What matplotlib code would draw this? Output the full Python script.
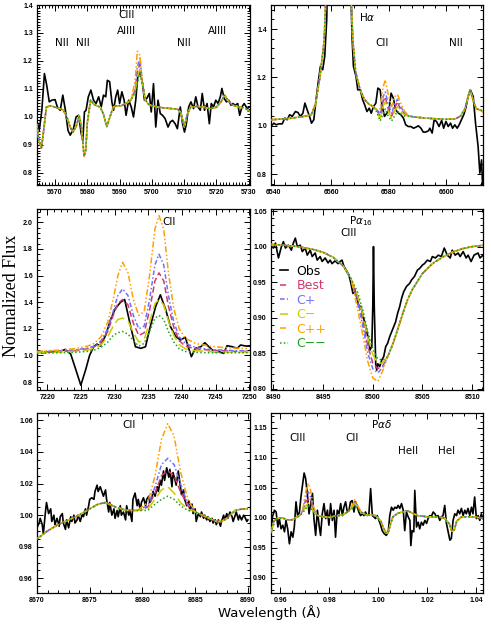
import matplotlib
matplotlib.use("Agg")
import matplotlib.pyplot as plt
import numpy as np
from matplotlib.ticker import MultipleLocator, AutoMinorLocator

models = ["Best", "C+", "C\u2212", "C++", "C\u2212\u2212"]
model_colors = ["#d03a6a", "#6f6fff", "#cccc00", "#ffa000", "#22a022"]
model_styles = [(0, (4, 2)), (0, (3, 1.5, 1, 1.5)), (0, (7, 3)),
                (0, (4, 1.5, 1, 1.5, 1, 1.5)), (0, (1, 1.5))]

# ---- panel 1 : 5665-5730
p1_obs_w = [5664.3, 5665.1, 5665.9, 5666.7, 5667.4, 5668.2, 5669.0, 5670.0, 5670.7, 5671.6,
            5672.4, 5673.2, 5674.0, 5674.7, 5675.7, 5676.5, 5677.3, 5678.1, 5678.6, 5679.1,
            5679.6, 5680.3, 5681.1, 5681.9, 5682.7, 5683.5, 5684.3, 5685.0, 5685.7, 5686.2,
            5686.9, 5687.6, 5688.1, 5688.8, 5689.4, 5690.0, 5690.7, 5691.4, 5692.0, 5692.8,
            5693.6, 5694.3, 5695.0, 5695.6, 5696.4, 5697.1, 5697.7, 5698.4, 5699.2, 5699.8,
            5700.5, 5701.2, 5701.9, 5702.6, 5703.3, 5704.1, 5705.0, 5705.7, 5706.4, 5707.2,
            5707.9, 5708.8, 5709.5, 5710.1, 5710.6, 5711.4, 5712.1, 5712.9, 5713.6, 5714.3,
            5715.0, 5715.6, 5716.3, 5717.1, 5717.8, 5718.4, 5719.1, 5719.8, 5720.5, 5721.2,
            5721.7, 5722.4, 5723.1, 5723.8, 5724.5, 5725.1, 5725.8, 5726.6, 5727.2, 5727.9,
            5728.6, 5729.5, 5730.3]
p1_obs_f = [0.988, 0.952, 1.024, 1.155, 1.114, 1.054, 1.060, 1.062, 1.036, 1.024,
            1.078, 1.024, 0.952, 0.935, 0.958, 1.000, 1.006, 0.941, 0.917, 1.018,
            1.024, 1.072, 1.096, 1.060, 1.048, 1.072, 1.036, 1.078, 1.072, 1.131,
            1.126, 1.054, 1.024, 1.072, 1.096, 1.048, 1.090, 1.060, 1.006, 1.060,
            1.036, 1.000, 1.060, 1.143, 1.161, 1.119, 1.060, 1.066, 1.084, 1.018,
            1.119, 0.964, 1.060, 1.012, 1.006, 0.994, 0.964, 0.982, 0.988, 0.976,
            0.958, 1.036, 0.976, 0.946, 0.970, 1.036, 1.054, 1.030, 1.072, 1.036,
            1.024, 1.084, 1.024, 1.048, 0.976, 1.048, 1.036, 1.060, 1.048, 1.072,
            1.102, 1.066, 1.054, 1.060, 1.042, 1.048, 1.042, 1.048, 1.006, 1.036,
            1.048, 1.030, 1.036]
p1_cont_w = [5664.3, 5665.0, 5665.8, 5666.5, 5667.3, 5668.5, 5670.0, 5671.5, 5672.5, 5673.5,
             5674.5, 5675.5, 5676.5, 5677.5, 5678.2, 5679.0, 5679.5, 5680.0, 5681.0, 5682.0,
             5683.0, 5684.0, 5685.0, 5686.0, 5687.0, 5688.0, 5689.0, 5690.5, 5692.0, 5693.5,
             5698.0, 5699.0, 5700.0, 5702.0, 5704.0, 5706.0, 5708.0, 5709.0, 5710.0, 5711.0,
             5712.0, 5714.0, 5716.0, 5718.0, 5720.0, 5721.5, 5722.5, 5723.5, 5725.0, 5727.0,
             5729.0, 5730.5]
p1_cont_f = [0.975, 0.915, 0.890, 0.955, 1.035, 1.040, 1.035, 1.030, 1.025, 1.005,
             0.970, 0.945, 0.965, 1.005, 0.960, 0.860, 0.880, 0.980, 1.060, 1.045,
             1.040, 1.035, 1.010, 0.965, 1.000, 1.035, 1.040, 1.040, 1.048, 1.060,
             1.060, 1.045, 1.040, 1.035, 1.032, 1.030, 1.028, 1.015, 0.965, 1.010,
             1.035, 1.038, 1.035, 1.030, 1.035, 1.055, 1.078, 1.060, 1.042, 1.036,
             1.030, 1.020]
p1_line_w = [5694.8, 5695.5, 5696.3, 5697.0]
p1_line = {"Best": [1.095, 1.16, 1.19, 1.125],
           "C+": [1.10, 1.18, 1.21, 1.13],
           "C\u2212": [1.09, 1.14, 1.17, 1.12],
           "C++": [1.13, 1.235, 1.22, 1.12],
           "C\u2212\u2212": [1.085, 1.12, 1.16, 1.12]}

# ---- panel 2 : H alpha
p2_obs_w = [6539.2, 6540.0, 6540.8, 6541.7, 6542.9, 6543.8, 6544.6, 6545.5, 6546.4, 6547.5,
            6548.4, 6549.2, 6550.1, 6550.8, 6551.6, 6552.4, 6553.1, 6553.9, 6554.7, 6555.4,
            6556.2, 6557.0, 6557.7, 6558.4, 6558.8, 6566.5, 6567.2, 6567.7, 6568.6, 6569.2,
            6570.1, 6570.9, 6571.6, 6572.4, 6573.2, 6573.9, 6574.7, 6575.5, 6576.2, 6577.0,
            6577.6, 6578.5, 6579.3, 6580.1, 6580.8, 6581.6, 6582.4, 6583.4, 6584.2, 6585.1,
            6585.9, 6586.8, 6587.7, 6588.6, 6589.4, 6590.3, 6591.2, 6592.0, 6592.8, 6593.8,
            6594.3, 6595.1, 6595.8, 6596.6, 6597.5, 6598.4, 6599.1, 6599.9, 6600.7, 6601.5,
            6602.2, 6603.0, 6603.8, 6604.5, 6605.3, 6606.1, 6606.8, 6607.6, 6608.4, 6609.4,
            6610.2, 6611.1, 6611.7, 6612.3, 6612.7]
p2_obs_f = [1.000, 1.011, 1.004, 1.008, 1.008, 1.032, 1.025, 1.046, 1.039, 1.059,
            1.055, 1.039, 1.052, 1.094, 1.066, 1.039, 1.011, 1.025, 1.108, 1.177,
            1.246, 1.232, 1.287, 1.440, 1.700, 1.700, 1.370, 1.246, 1.204, 1.149,
            1.149, 1.108, 1.087, 1.059, 1.073, 1.052, 1.080, 1.094, 1.156, 1.149,
            1.087, 1.039, 1.052, 1.066, 1.135, 1.114, 1.066, 1.052, 1.046, 1.032,
            1.004, 0.997, 0.997, 0.990, 0.994, 1.000, 0.990, 0.974, 0.974, 0.979,
            0.990, 0.970, 1.025, 1.018, 0.997, 1.022, 0.990, 1.018, 0.997, 1.011,
            0.990, 1.004, 0.990, 1.004, 1.025, 1.046, 1.073, 1.121, 1.149, 1.121,
            1.011, 0.914, 0.804, 0.859, 0.740]
p2_cont_w = [6539.0, 6545.0, 6550.0, 6553.0, 6554.5, 6556.0, 6557.5, 6559.0, 6566.5, 6567.0,
             6567.5, 6568.5, 6570.0, 6571.5, 6573.0, 6574.5, 6575.3, 6587.0, 6590.0, 6595.0,
             6600.0, 6603.0, 6605.0, 6606.5, 6608.3, 6609.5, 6610.5, 6612.0, 6613.0]
p2_cont_f = [1.025, 1.030, 1.038, 1.045, 1.090, 1.200, 1.350, 1.800, 1.800, 1.500,
             1.350, 1.220, 1.150, 1.110, 1.090, 1.080, 1.070, 1.040, 1.035, 1.030,
             1.027, 1.028, 1.040, 1.070, 1.150, 1.100, 1.070, 1.065, 1.055]
p2_line_w = [6576.0, 6577.0, 6578.0, 6578.8, 6579.8, 6581.0, 6582.0, 6583.0, 6584.0, 6585.5]
p2_line = {"Best": [1.06, 1.04, 1.10, 1.12, 1.07, 1.04, 1.07, 1.10, 1.07, 1.05],
           "C+": [1.065, 1.05, 1.12, 1.14, 1.09, 1.05, 1.09, 1.11, 1.08, 1.055],
           "C\u2212": [1.055, 1.03, 1.08, 1.10, 1.06, 1.03, 1.06, 1.08, 1.06, 1.045],
           "C++": [1.07, 1.07, 1.16, 1.19, 1.13, 1.08, 1.12, 1.13, 1.10, 1.06],
           "C\u2212\u2212": [1.05, 1.02, 1.05, 1.07, 1.04, 1.02, 1.04, 1.06, 1.05, 1.04]}

# ---- panel 3 : CII 7231/7236
p3_obs_w = [7218.5, 7219.5, 7220.5, 7221.5, 7222.2, 7222.7, 7223.5, 7224.2, 7225.0, 7225.7,
            7226.3, 7226.9, 7227.4, 7227.9, 7228.7, 7229.4, 7230.1, 7230.9, 7231.5, 7232.4,
            7233.1, 7233.9, 7234.6, 7235.3, 7236.1, 7236.8, 7237.6, 7238.3, 7239.1, 7239.8,
            7240.5, 7241.4, 7242.0, 7242.8, 7243.4, 7244.0, 7244.8, 7245.5, 7246.2, 7246.7,
            7247.5, 7248.2, 7248.7, 7249.5, 7250.1]
p3_obs_f = [1.028, 1.020, 1.028, 1.028, 1.035, 1.045, 1.010, 0.902, 0.776, 0.889,
            1.000, 1.065, 1.085, 1.070, 1.153, 1.266, 1.350, 1.400, 1.420, 1.216,
            1.065, 1.053, 1.065, 1.216, 1.367, 1.455, 1.342, 1.216, 1.141, 1.116,
            1.136, 0.990, 1.053, 1.065, 1.095, 1.065, 1.028, 1.028, 1.015, 1.073,
            1.065, 1.053, 1.078, 1.070, 1.070]
p3_cont_w = []
p3_cont_f = []
p3_line_w = [7218.5, 7220.0, 7222.0, 7224.0, 7226.0, 7227.0, 7228.0, 7229.0, 7229.8, 7230.5,
             7231.2, 7232.0, 7232.8, 7233.6, 7234.4, 7235.2, 7236.0, 7236.6, 7237.3, 7238.0,
             7238.8, 7239.6, 7240.5, 7242.0, 7244.0, 7246.0, 7248.0, 7250.0]
p3_line = {
    "Best": [1.022, 1.025, 1.03, 1.035, 1.05, 1.065, 1.10, 1.18, 1.30, 1.39,
             1.42, 1.38, 1.24, 1.15, 1.17, 1.34, 1.56, 1.62, 1.56, 1.37,
             1.21, 1.11, 1.07, 1.05, 1.04, 1.035, 1.03, 1.03],
    "C+": [1.025, 1.03, 1.035, 1.04, 1.055, 1.07, 1.11, 1.20, 1.33, 1.45,
           1.50, 1.45, 1.30, 1.20, 1.22, 1.42, 1.68, 1.76, 1.68, 1.45,
           1.25, 1.14, 1.09, 1.06, 1.045, 1.04, 1.035, 1.035],
    "C\u2212": [1.02, 1.022, 1.025, 1.03, 1.04, 1.055, 1.08, 1.14, 1.22, 1.27,
                1.28, 1.26, 1.17, 1.10, 1.12, 1.25, 1.39, 1.42, 1.38, 1.26,
                1.15, 1.08, 1.05, 1.035, 1.03, 1.025, 1.025, 1.025],
    "C++": [1.03, 1.035, 1.04, 1.05, 1.07, 1.09, 1.14, 1.25, 1.42, 1.60,
            1.70, 1.62, 1.42, 1.30, 1.33, 1.60, 1.95, 2.05, 1.95, 1.62,
            1.35, 1.20, 1.13, 1.09, 1.07, 1.06, 1.055, 1.05],
    "C\u2212\u2212": [1.015, 1.018, 1.02, 1.022, 1.03, 1.04, 1.06, 1.10, 1.15, 1.17,
                      1.18, 1.16, 1.11, 1.07, 1.09, 1.18, 1.28, 1.30, 1.27, 1.18,
                      1.10, 1.05, 1.03, 1.022, 1.02, 1.02, 1.02, 1.02]}

# ---- panel 4 : Pa16
p4_obs_w = [8489.8, 8490.0, 8490.2, 8490.5, 8490.8, 8491.0, 8491.2, 8491.5, 8491.8, 8492.0,
            8492.2, 8492.4, 8492.7, 8492.9, 8493.2, 8493.4, 8493.7, 8493.9, 8494.2, 8494.4,
            8494.7, 8494.9, 8495.2, 8495.5, 8495.7, 8495.9, 8496.2, 8496.5, 8496.7, 8496.9,
            8497.1, 8497.4, 8497.6, 8497.8, 8498.0, 8498.2, 8498.4, 8498.6, 8498.8, 8499.0,
            8499.2, 8499.4, 8499.6, 8499.7, 8499.9, 8500.0, 8500.07, 8500.15, 8500.3, 8500.4,
            8500.5, 8500.7, 8500.9, 8501.1, 8501.3, 8501.5, 8501.7, 8501.9, 8502.1, 8502.3,
            8502.5, 8502.7, 8502.9, 8503.1, 8503.4, 8503.7, 8503.9, 8504.2, 8504.5, 8504.7,
            8505.0, 8505.2, 8505.5, 8505.8, 8506.0, 8506.3, 8506.6, 8506.9, 8507.2, 8507.5,
            8507.8, 8508.0, 8508.3, 8508.6, 8508.8, 8509.1, 8509.4, 8509.6, 8509.9, 8510.2,
            8510.6, 8510.8, 8511.1]
p4_obs_f = [1.000, 0.998, 1.005, 0.984, 1.000, 1.007, 0.998, 1.002, 0.995, 1.005,
            1.012, 1.000, 1.002, 0.993, 0.998, 0.988, 0.995, 0.986, 0.991, 0.981,
            0.986, 0.979, 0.984, 0.977, 0.981, 0.976, 0.980, 0.976, 0.979, 0.981,
            0.972, 0.965, 0.960, 0.948, 0.934, 0.939, 0.929, 0.915, 0.916, 0.904,
            0.892, 0.880, 0.868, 0.854, 0.859, 0.915, 1.000, 0.915, 0.833, 0.826,
            0.835, 0.831, 0.840, 0.845, 0.859, 0.864, 0.873, 0.880, 0.887, 0.894,
            0.906, 0.915, 0.927, 0.936, 0.944, 0.948, 0.953, 0.958, 0.967, 0.969,
            0.974, 0.976, 0.981, 0.979, 0.986, 0.984, 0.988, 0.986, 0.998, 0.988,
            0.984, 0.995, 0.988, 0.991, 0.986, 0.993, 0.984, 0.988, 0.979, 0.988,
            0.991, 0.984, 0.988]
p4_cont_w = [8489.7, 8491.0, 8492.5, 8494.0, 8495.0, 8496.0, 8497.0, 8497.8, 8501.5, 8502.0,
             8502.5, 8503.0, 8503.5, 8504.0, 8505.0, 8506.0, 8507.0, 8508.0, 8509.0, 8510.0,
             8511.2]
p4_cont_f = [1.003, 1.002, 1.000, 0.996, 0.992, 0.985, 0.973, 0.955, 0.845, 0.862,
             0.883, 0.905, 0.925, 0.940, 0.962, 0.976, 0.985, 0.992, 0.997, 1.000,
             1.002]
p4_line_w = [8498.5, 8499.0, 8499.5, 8500.0, 8500.5, 8501.0]
p4_line = {"Best": [0.925, 0.895, 0.860, 0.836, 0.828, 0.832],
           "C+": [0.920, 0.888, 0.850, 0.828, 0.822, 0.830],
           "C\u2212": [0.930, 0.905, 0.872, 0.848, 0.836, 0.836],
           "C++": [0.910, 0.875, 0.838, 0.815, 0.810, 0.825],
           "C\u2212\u2212": [0.935, 0.910, 0.880, 0.856, 0.842, 0.840]}

# ---- panel 5 : CII 8682
p5_obs_w = [8670.0, 8670.2, 8670.3, 8670.5, 8670.6, 8670.8, 8670.9, 8671.1, 8671.3, 8671.4,
            8671.6, 8671.7, 8671.9, 8672.1, 8672.2, 8672.4, 8672.5, 8672.7, 8672.8, 8673.0,
            8673.2, 8673.3, 8673.5, 8673.6, 8673.8, 8673.9, 8674.1, 8674.3, 8674.4, 8674.6,
            8674.7, 8674.9, 8675.0, 8675.2, 8675.4, 8675.5, 8675.7, 8675.8, 8676.0, 8676.2,
            8676.3, 8676.5, 8676.6, 8676.8, 8676.9, 8677.1, 8677.3, 8677.4, 8677.6, 8677.7,
            8677.9, 8678.0, 8678.2, 8678.4, 8678.5, 8678.7, 8678.8, 8679.0, 8679.1, 8679.3,
            8679.5, 8679.6, 8679.8, 8679.9, 8680.1, 8680.3, 8680.4, 8680.6, 8680.7, 8680.9,
            8681.0, 8681.2, 8681.4, 8681.5, 8681.7, 8681.8, 8682.0, 8682.1, 8682.3, 8682.5,
            8682.6, 8682.8, 8682.9, 8683.1, 8683.2, 8683.4, 8683.6, 8683.7, 8683.9, 8684.0,
            8684.2, 8684.4, 8684.5, 8684.7, 8684.8, 8685.0, 8685.1, 8685.3, 8685.5, 8685.6,
            8685.8, 8685.9, 8686.1, 8686.2, 8686.4, 8686.6, 8686.7, 8686.9, 8687.0, 8687.2,
            8687.4, 8687.5, 8687.7, 8687.8, 8688.0, 8688.1, 8688.3, 8688.5, 8688.6, 8688.8,
            8688.9, 8689.1, 8689.2, 8689.4, 8689.6, 8689.7, 8689.9, 8690.0]
p5_obs_f = [0.992, 0.995, 0.998, 0.994, 0.988, 1.002, 1.008, 1.001, 1.004, 0.996,
            1.000, 0.994, 0.998, 0.993, 0.999, 1.001, 0.995, 0.991, 0.997, 0.992,
            0.999, 0.996, 1.000, 0.995, 0.997, 1.000, 0.996, 1.001, 0.999, 1.004,
            1.000, 1.006, 1.010, 1.011, 1.010, 1.015, 1.019, 1.015, 1.018, 1.014,
            1.012, 1.016, 1.010, 1.002, 1.008, 1.000, 1.004, 0.998, 1.003, 0.999,
            1.006, 1.000, 1.002, 0.997, 1.006, 1.000, 1.003, 0.996, 1.010, 1.014,
            1.006, 1.010, 1.003, 1.008, 1.011, 1.006, 1.010, 1.012, 1.008, 1.011,
            1.015, 1.012, 1.018, 1.015, 1.022, 1.019, 1.028, 1.022, 1.030, 1.024,
            1.029, 1.018, 1.027, 1.022, 1.019, 1.028, 1.018, 1.013, 1.016, 1.010,
            1.006, 1.009, 1.003, 1.007, 1.001, 1.004, 0.996, 1.001, 0.999, 1.002,
            0.998, 1.000, 0.997, 0.999, 0.996, 0.998, 0.995, 0.997, 0.994, 0.997,
            0.993, 0.996, 1.000, 0.997, 1.001, 0.998, 1.002, 0.999, 0.996, 1.000,
            1.002, 0.997, 1.000, 0.997, 1.000, 0.999, 0.996, 0.997]
p5_cont_w = [8670.0, 8671.0, 8672.0, 8673.0, 8674.0, 8675.0, 8675.8, 8676.5, 8677.5, 8678.5,
             8679.5, 8685.0, 8686.0, 8687.0, 8687.5, 8688.0, 8688.8, 8689.5, 8690.0]
p5_cont_f = [0.985, 0.990, 0.994, 0.997, 1.000, 1.004, 1.007, 1.008, 1.005, 1.003,
             1.003, 1.002, 0.999, 0.996, 0.996, 0.998, 1.003, 1.004, 1.004]
p5_line_w = [8680.5, 8681.2, 8681.8, 8682.4, 8683.0, 8683.6, 8684.3]
p5_line = {"Best": [1.005, 1.014, 1.025, 1.028, 1.025, 1.015, 1.006],
           "C+": [1.006, 1.018, 1.032, 1.036, 1.032, 1.020, 1.007],
           "C\u2212": [1.004, 1.010, 1.016, 1.018, 1.014, 1.008, 1.004],
           "C++": [1.008, 1.025, 1.048, 1.058, 1.050, 1.028, 1.010],
           "C\u2212\u2212": [1.003, 1.007, 1.010, 1.012, 1.010, 1.006, 1.003]}

# ---- panel 6 : Pa delta
p6_obs_w = [0.9563, 0.9569, 0.9577, 0.9584, 0.9591, 0.9597, 0.9604, 0.9611, 0.9618, 0.9624,
            0.9631, 0.9638, 0.9645, 0.9652, 0.9658, 0.9665, 0.9672, 0.9679, 0.9685, 0.9691,
            0.9698, 0.9704, 0.9711, 0.9718, 0.9725, 0.9732, 0.9738, 0.9745, 0.9752, 0.9759,
            0.9765, 0.9772, 0.9779, 0.9786, 0.9793, 0.9799, 0.9806, 0.9813, 0.9820, 0.9826,
            0.9833, 0.9840, 0.9847, 0.9854, 0.9860, 0.9867, 0.9874, 0.9881, 0.9887, 0.9894,
            0.9901, 0.9908, 0.9915, 0.9921, 0.9928, 0.9935, 0.9942, 0.9948, 0.9955, 0.9962,
            0.9969, 0.9976, 0.9982, 0.9989, 0.9996, 1.0003, 1.0010, 1.0016, 1.0024, 1.0033,
            1.0041, 1.0047, 1.0054, 1.0061, 1.0068, 1.0075, 1.0081, 1.0088, 1.0095, 1.0102,
            1.0108, 1.0115, 1.0122, 1.0129, 1.0133, 1.0138, 1.0145, 1.0149, 1.0156, 1.0163,
            1.0169, 1.0176, 1.0183, 1.0190, 1.0197, 1.0203, 1.0210, 1.0217, 1.0224, 1.0231,
            1.0237, 1.0244, 1.0251, 1.0258, 1.0264, 1.0271, 1.0278, 1.0285, 1.0292, 1.0298,
            1.0305, 1.0312, 1.0319, 1.0325, 1.0332, 1.0339, 1.0346, 1.0353, 1.0359, 1.0366,
            1.0373, 1.0380, 1.0386, 1.0393, 1.0400, 1.0407, 1.0414, 1.0420, 1.0427]
p6_obs_f = [0.974, 1.002, 1.013, 1.010, 0.985, 0.999, 0.982, 0.988, 0.977, 0.996,
            0.982, 0.957, 0.977, 0.968, 0.985, 1.027, 1.002, 1.010, 1.035, 1.054,
            1.075, 1.066, 1.041, 1.007, 1.024, 1.041, 0.999, 0.971, 1.013, 0.988,
            0.971, 1.007, 1.024, 0.999, 1.013, 0.988, 1.024, 0.996, 1.013, 0.968,
            1.013, 1.007, 1.024, 1.004, 1.018, 1.027, 1.010, 1.013, 1.027, 1.029,
            1.010, 1.027, 1.018, 1.010, 1.004, 1.007, 1.004, 1.010, 1.004, 1.007,
            1.049, 1.004, 1.002, 0.999, 1.004, 0.996, 0.988, 0.979, 0.974, 0.971,
            0.977, 1.004, 1.018, 1.013, 1.018, 1.016, 1.021, 1.016, 1.024, 1.013,
            0.979, 1.010, 1.002, 0.996, 0.954, 0.979, 0.977, 1.046, 0.985, 0.993,
            0.982, 0.993, 0.988, 0.996, 0.991, 0.999, 1.004, 1.003, 1.010, 1.007,
            1.002, 1.004, 0.996, 1.002, 1.004, 1.021, 0.991, 0.977, 0.963, 0.966,
            0.996, 1.007, 1.004, 1.013, 1.007, 1.016, 1.004, 1.013, 1.007, 1.016,
            1.004, 1.018, 1.007, 1.035, 0.999, 1.004, 0.996, 1.007, 0.999]
p6_cont_w = [0.9563, 0.9575, 0.9590, 0.9610, 0.9630, 0.9650, 0.9670, 0.9685, 0.9750, 0.9760,
             0.9780, 0.9800, 0.9820, 0.9840, 0.9860, 0.9880, 0.9930, 0.9950, 0.9970, 0.9990,
             1.0010, 1.0020, 1.0030, 1.0040, 1.0050, 1.0060, 1.0080, 1.0100, 1.0120, 1.0140,
             1.0160, 1.0180, 1.0200, 1.0240, 1.0270, 1.0290, 1.0300, 1.0310, 1.0320, 1.0340,
             1.0380, 1.0427]
p6_cont_f = [0.975, 0.995, 1.000, 1.000, 0.997, 0.997, 1.002, 1.006, 1.005, 1.003,
             1.002, 1.001, 1.003, 1.004, 1.006, 1.012, 1.010, 1.005, 1.005, 1.004,
             0.995, 0.985, 0.976, 0.975, 0.990, 1.002, 1.008, 1.010, 1.012, 1.008,
             1.004, 1.003, 1.002, 1.002, 1.000, 0.990, 0.978, 0.980, 0.995, 1.002,
             1.002, 1.000]
p6_line_w = [0.9695, 0.9705, 0.9715, 0.9725, 0.9735, 0.9895, 0.9905, 0.9915]
p6_line = {"Best": [1.014, 1.027, 1.032, 1.027, 1.014, 1.019, 1.026, 1.019],
           "C+": [1.016, 1.034, 1.044, 1.034, 1.016, 1.020, 1.028, 1.020],
           "C\u2212": [1.012, 1.020, 1.025, 1.020, 1.012, 1.018, 1.024, 1.018],
           "C++": [1.020, 1.045, 1.058, 1.045, 1.020, 1.022, 1.031, 1.022],
           "C\u2212\u2212": [1.010, 1.016, 1.020, 1.016, 1.010, 1.016, 1.022, 1.016]}

panels = [
    (p1_obs_w, p1_obs_f, p1_cont_w, p1_cont_f, p1_line_w, p1_line),
    (p2_obs_w, p2_obs_f, p2_cont_w, p2_cont_f, p2_line_w, p2_line),
    (p3_obs_w, p3_obs_f, p3_cont_w, p3_cont_f, p3_line_w, p3_line),
    (p4_obs_w, p4_obs_f, p4_cont_w, p4_cont_f, p4_line_w, p4_line),
    (p5_obs_w, p5_obs_f, p5_cont_w, p5_cont_f, p5_line_w, p5_line),
    (p6_obs_w, p6_obs_f, p6_cont_w, p6_cont_f, p6_line_w, p6_line),
]
xlims = [(5664.4, 5730.4), (6539.0, 6612.8), (7218.5, 7250.1),
         (8489.75, 8511.1), (8670.0, 8690.2), (0.9563, 1.0427)]
ylims = [(0.757, 1.40), (0.755, 1.50), (0.74, 2.10),
         (0.798, 1.053), (0.9507, 1.0647), (0.875, 1.175)]
xmajor = [10, 20, 5, 5, 5, 0.02]
ymajor = [0.1, 0.2, 0.2, 0.05, 0.02, 0.05]
xminor = [10, 5, 5, 5, 5, 4]
yminor = [10, 5, 5, 5, 4, 5]
xfmt = ["%d", "%d", "%d", "%d", "%d", "%.2f"]
yfmt = ["%.1f", "%.1f", "%.1f", "%.2f", "%.2f", "%.2f"]

# line ids: (panel, x, y, text)
labels = [
    (0, 5692.2, 1.364, "CIII"), (0, 5692.2, 1.308, "AlIII"), (0, 5672.0, 1.263, "NII"),
    (0, 5678.6, 1.263, "NII"), (0, 5709.8, 1.263, "NII"), (0, 5720.2, 1.308, "AlIII"),
    (1, 6572.4, 1.452, r"H$\alpha$"), (1, 6577.6, 1.342, "CII"), (1, 6603.2, 1.342, "NII"),
    (2, 7238.1, 2.00, "CII"),
    (3, 8497.6, 1.019, "CIII"), (3, 8498.8, 1.036, r"P$\alpha_{16}$"),
    (4, 8678.7, 1.057, "CII"),
    (5, 1.0014, 1.157, r"P$\alpha\delta$"), (5, 0.9672, 1.134, "CIII"), (5, 0.9892, 1.134, "CII"),
    (5, 1.0120, 1.112, "HeII"), (5, 1.0280, 1.112, "HeI"),
]

fig = plt.figure(figsize=(4.91, 6.40), dpi=100)
W, H = 491.0, 640.0
boxes = [(37, 5, 250, 185), (271, 5, 483, 185),
         (37, 209, 250, 390), (271, 209, 483, 390),
         (37, 413, 250, 593), (271, 413, 483, 593)]

axes = []
for i, (l, t, r, b) in enumerate(boxes):
    ax = fig.add_axes([l / W, 1 - b / H, (r - l) / W, (b - t) / H])
    obs_w, obs_f, cw, cf, lw_, line = panels[i]
    ax.plot(obs_w, obs_f, color="black", lw=1.2, label="Obs", zorder=2)
    for name, col, ls in zip(models, model_colors, model_styles):
        w = np.array(cw + lw_)
        f = np.array(cf + line[name])
        order = np.argsort(w)
        ax.plot(w[order], f[order], color=col, ls=ls, lw=1.1, label=name, zorder=3)
    ax.set_xlim(*xlims[i])
    ax.set_ylim(*ylims[i])
    ax.xaxis.set_major_locator(MultipleLocator(xmajor[i]))
    ax.yaxis.set_major_locator(MultipleLocator(ymajor[i]))
    ax.xaxis.set_minor_locator(AutoMinorLocator(xminor[i]))
    ax.yaxis.set_minor_locator(AutoMinorLocator(yminor[i]))
    ax.xaxis.set_major_formatter(plt.FormatStrFormatter(xfmt[i]))
    ax.yaxis.set_major_formatter(plt.FormatStrFormatter(yfmt[i]))
    ax.tick_params(which="both", direction="in", top=True, right=True,
                   labelsize=5, width=0.7, pad=3)
    ax.tick_params(which="major", length=4)
    ax.tick_params(which="minor", length=2)
    for lab in ax.get_xticklabels() + ax.get_yticklabels():
        lab.set_fontweight("bold")
        lab.set_family("Liberation Sans")
    for s in ax.spines.values():
        s.set_linewidth(0.9)
    axes.append(ax)

for pi, x, y, txt in labels:
    axes[pi].text(x, y, txt, ha="center", va="center", fontsize=7.5)

leg = axes[3].legend(loc="upper left", bbox_to_anchor=(0.02, 0.72), frameon=False,
                     handlelength=0.6, handletextpad=0.7, labelspacing=0.12,
                     fontsize=9, labelcolor="linecolor", borderaxespad=0)

fig.text(12 / W, 1 - 296 / H, "Normalized Flux", rotation=90, ha="center", va="center",
         fontsize=13, family="Liberation Serif")
fig.text(269 / W, 1 - 613 / H, "Wavelength (\u00c5)", ha="center", va="center",
         fontsize=9.5)

plt.savefig("out.png", dpi=100)
